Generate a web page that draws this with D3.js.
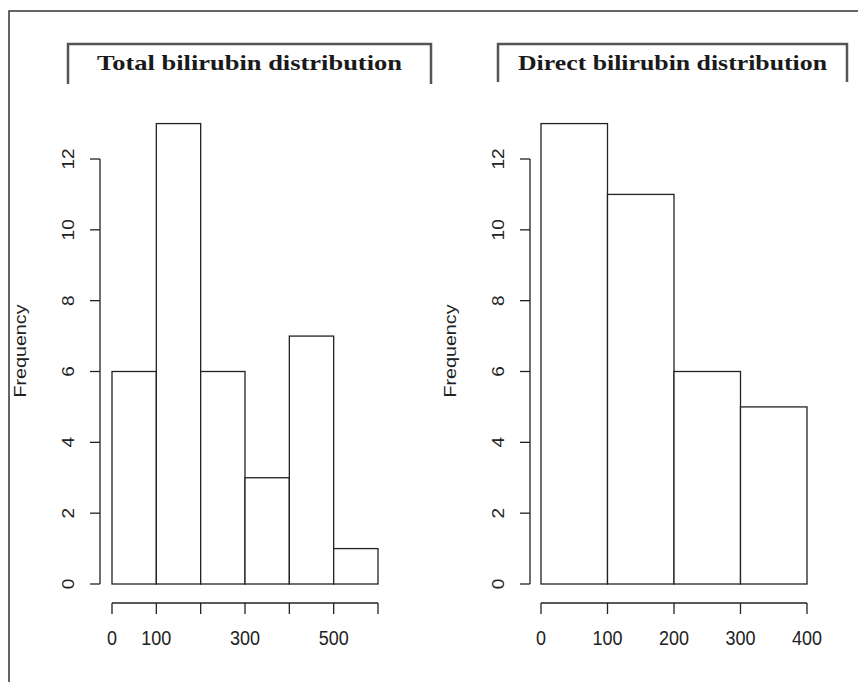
<!DOCTYPE html>
<html>
<head>
<meta charset="utf-8">
<script src="https://cdn.jsdelivr.net/npm/d3@7"></script>
<style>
  html, body { margin: 0; padding: 0; background: #fff; }
  svg { display: block; }
</style>
</head>
<body>
<svg id="chart"></svg>
<script>
// histogram data
const totalBreaks = [0, 100, 200, 300, 400, 500, 600];
const totalCounts = [6, 13, 6, 3, 7, 1];
const totalLabels = [0, 100, 300, 500];   // R drops the labels that would overlap

const directBreaks = [0, 100, 200, 300, 400];
const directCounts = [13, 11, 6, 5];
const directLabels = [0, 100, 200, 300, 400];

const yTicks = [0, 2, 4, 6, 8, 10, 12];

const titles = ['Total bilirubin distribution', 'Direct bilirubin distribution'];

const W = 858, H = 682;
const ink = '#222';
const sans = 'Liberation Sans, Arial, sans-serif';

const svg = d3.select('#chart')
    .attr('width', W)
    .attr('height', H);

// frame of the cropped figure (top and left edges only)
svg.append('path')
    .attr('d', `M9,${H} V11 H${W}`)
    .attr('fill', 'none')
    .attr('stroke', '#333')
    .attr('stroke-width', 1.5);

function drawPanel(opts) {
    const x = d3.scaleLinear().domain(opts.xDomain).range(opts.xRange);
    const y = d3.scaleLinear().domain([0, 12]).range([584, 159]);
    const g = svg.append('g');

    const bins = opts.counts.map((c, i) => ({ x0: opts.breaks[i], x1: opts.breaks[i + 1], n: c }));

    g.selectAll('rect.bar')
        .data(bins)
        .join('rect')
        .attr('class', 'bar')
        .attr('x', d => x(d.x0))
        .attr('width', d => x(d.x1) - x(d.x0))
        .attr('y', d => y(d.n))
        .attr('height', d => y(0) - y(d.n))
        .attr('fill', '#fff')
        .attr('stroke', ink)
        .attr('stroke-width', 1.3);

    // y axis, R style: line from first to last tick, labels rotated
    const yAxis = g.append('g').attr('transform', `translate(${opts.yAxisX},0)`);
    yAxis.append('line')
        .attr('y1', y(0)).attr('y2', y(12))
        .attr('stroke', ink).attr('stroke-width', 1.3);
    yAxis.selectAll('line.tick')
        .data(yTicks)
        .join('line')
        .attr('class', 'tick')
        .attr('x1', 0).attr('x2', -10)
        .attr('y1', d => y(d)).attr('y2', d => y(d))
        .attr('stroke', ink).attr('stroke-width', 1.3);
    yAxis.selectAll('text')
        .data(yTicks)
        .join('text')
        .attr('transform', d => `translate(-26,${y(d)}) rotate(-90) scale(1.12,1)`)
        .attr('text-anchor', 'middle')
        .attr('font-family', sans)
        .attr('font-size', 17)
        .attr('fill', ink)
        .text(d => d);

    // x axis below the bars
    const xAxis = g.append('g').attr('transform', 'translate(0,603)');
    xAxis.append('line')
        .attr('x1', x(opts.xDomain[0])).attr('x2', x(opts.xDomain[1]))
        .attr('stroke', ink).attr('stroke-width', 1.3);
    xAxis.selectAll('line.tick')
        .data(opts.breaks)
        .join('line')
        .attr('class', 'tick')
        .attr('x1', d => x(d)).attr('x2', d => x(d))
        .attr('y1', 0).attr('y2', 11)
        .attr('stroke', ink).attr('stroke-width', 1.3);
    xAxis.selectAll('text')
        .data(opts.labels)
        .join('text')
        .attr('transform', d => `translate(${x(d)},42) scale(1,1.15)`)
        .attr('text-anchor', 'middle')
        .attr('font-family', sans)
        .attr('font-size', 18)
        .attr('fill', ink)
        .text(d => d);

    g.append('text')
        .attr('transform', `translate(${opts.freqX},351) rotate(-90)`)
        .attr('text-anchor', 'middle')
        .attr('font-family', sans)
        .attr('font-size', 16)
        .attr('textLength', 93)
        .attr('lengthAdjust', 'spacingAndGlyphs')
        .attr('fill', ink)
        .text('Frequency');

    // title box: top + sides, open at the bottom
    const b = opts.box;
    g.append('path')
        .attr('d', `M${b[0]},${b[3]} V${b[2]} H${b[1]} V${b[3]}`)
        .attr('fill', 'none')
        .attr('stroke', '#555')
        .attr('stroke-width', 2.5);
    g.append('text')
        .attr('x', (b[0] + b[1]) / 2)
        .attr('y', 70)
        .attr('text-anchor', 'middle')
        .attr('font-family', 'Liberation Serif, Times New Roman, serif')
        .attr('font-weight', 'bold')
        .attr('font-size', 21)
        .attr('textLength', opts.titleLen)
        .attr('lengthAdjust', 'spacingAndGlyphs')
        .attr('fill', '#1a1a1a')
        .text(opts.title);
}

drawPanel({
    breaks: totalBreaks, counts: totalCounts, labels: totalLabels,
    xDomain: [0, 600], xRange: [112, 378],
    yAxisX: 100, freqX: 26,
    box: [68, 431, 44, 84], title: titles[0], titleLen: 305
});

drawPanel({
    breaks: directBreaks, counts: directCounts, labels: directLabels,
    xDomain: [0, 400], xRange: [541, 807],
    yAxisX: 530, freqX: 456,
    box: [498, 847, 44, 82], title: titles[1], titleLen: 309
});
</script>
</body>
</html>
